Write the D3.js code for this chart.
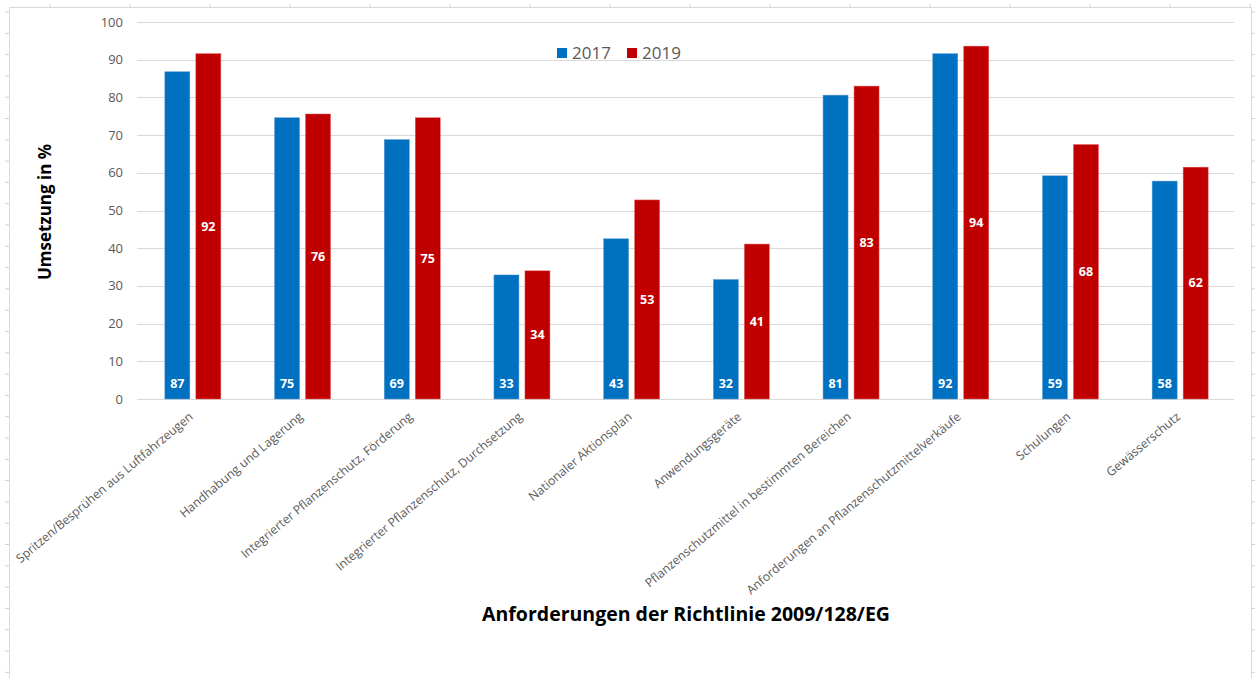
<!DOCTYPE html>
<html><head><meta charset="utf-8">
<script src="https://cdn.jsdelivr.net/npm/d3@7"></script>
<style>body{margin:0;background:#fff;}svg{display:block;font-family:"Open Sans",sans-serif;}</style>
</head><body><svg id="c" width="1255" height="678"></svg>
<script>
const categories = ["Spritzen/Besprühen aus Luftfahrzeugen","Handhabung und Lagerung","Integrierter Pflanzenschutz, Förderung","Integrierter Pflanzenschutz, Durchsetzung","Nationaler Aktionsplan","Anwendungsgeräte","Pflanzenschutzmittel in bestimmten Bereichen","Anforderungen an Pflanzenschutzmittelverkäufe","Schulungen","Gewässerschutz"];
const series = ["2017","2019"];
const values2017 = [86.8,74.6,68.8,32.9,42.5,31.7,80.6,91.6,59.2,57.8];
const values2019 = [91.6,75.6,74.6,34.0,52.8,41.1,83.0,93.6,67.5,61.5];
const yTicks = [0,10,20,30,40,50,60,70,80,90,100];
const colors = {"2017":"#0070c0","2019":"#c00000"};

const svg = d3.select("#c");
// frame
svg.append("rect").attr("x",9.5).attr("y",7.5).attr("width",1242).attr("height",680).attr("fill","none").attr("stroke","#d9d9d9");
const rul = svg.append("g").attr("stroke","#d0d0d0");
d3.range(12, 678, 21.3).forEach(y=>{rul.append("line").attr("x1",5).attr("x2",9).attr("y1",y).attr("y2",y);rul.append("line").attr("x1",1252).attr("x2",1255).attr("y1",y).attr("y2",y);});
d3.range(50, 1255, 80).forEach(x=>{rul.append("line").attr("x1",x).attr("x2",x).attr("y1",4).attr("y2",7);});

const x0 = d3.scaleBand().domain(categories).range([137,1234]);
const y = d3.scaleLinear().domain([0,100]).range([399,22]);
const bw = 25, gap = 6;

// gridlines
svg.append("g").selectAll("line").data(yTicks).join("line")
  .attr("x1",137).attr("x2",1234).attr("y1",d=>Math.round(y(d))+0.5).attr("y2",d=>Math.round(y(d))+0.5)
  .attr("stroke","#d9d9d9").attr("stroke-width",1);
// y axis labels
svg.append("g").selectAll("text").data(yTicks).join("text")
  .attr("x",123).attr("y",d=>y(d)).attr("dy","0.35em").attr("text-anchor","end")
  .attr("font-size",13).attr("fill","#595959").text(d=>d);

const data = categories.map((c,i)=>({c, v:{"2017":values2017[i],"2019":values2019[i]}}));
const g = svg.append("g");
data.forEach(d=>{
  const cx = x0(d.c)+x0.bandwidth()/2;
  series.forEach((s,si)=>{
    const bx = si===0 ? cx-bw-gap/2+1 : cx+gap/2+1;
    g.append("rect").attr("x",bx).attr("y",y(d.v[s])).attr("width",bw).attr("height",y(0)-y(d.v[s]))
      .attr("fill",colors[s]).attr("stroke", si===0?"#5b9bd5":"#e06060").attr("stroke-width",0.5);
    const ly = si===0 ? y(0)-15 : (y(d.v[s])+y(0))/2;
    g.append("text").attr("x",bx+bw/2).attr("y",ly).attr("dy","0.35em").attr("text-anchor","middle")
      .attr("font-size",12.5).attr("font-weight","bold").attr("fill","#fff").text(Math.round(d.v[s]));
  });
  svg.append("text").attr("transform",`translate(${cx+2},${418}) rotate(-40)`)
    .attr("text-anchor","end").attr("font-size",12.2).attr("fill","#595959").text(d.c);
});

// legend
const leg = svg.append("g").attr("font-size",17).attr("fill","#595959");
[[557,"2017"],[627,"2019"]].forEach(([lx,s])=>{
  leg.append("rect").attr("x",lx).attr("y",48).attr("width",10).attr("height",10).attr("fill",colors[s]);
  leg.append("text").attr("x",lx+15).attr("y",53).attr("dy","0.35em").text(s);
});

// axis titles
svg.append("text").attr("transform","translate(51,212) rotate(-90)").attr("text-anchor","middle")
  .attr("font-size",17).attr("font-weight","bold").attr("fill","#000").text("Umsetzung in %");
svg.append("text").attr("x",686).attr("y",614).attr("dy","0.35em").attr("text-anchor","middle")
  .attr("font-size",19.5).attr("font-weight","bold").attr("fill","#000").text("Anforderungen der Richtlinie 2009/128/EG");
</script></body></html>
